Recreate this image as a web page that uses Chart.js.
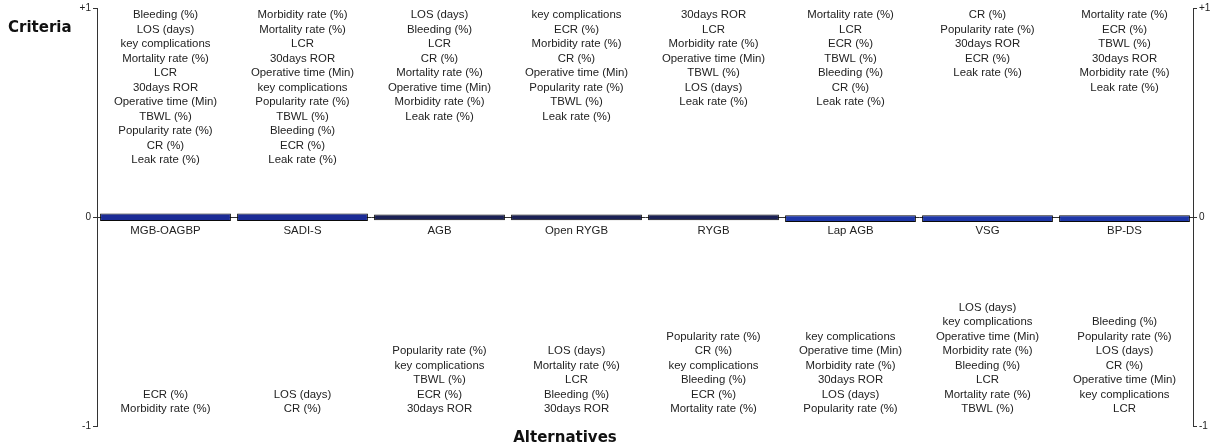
<!DOCTYPE html>
<html>
<head>
<meta charset="utf-8">
<script src="https://cdn.jsdelivr.net/npm/chart.js@4/dist/chart.umd.min.js"></script>
<style>
  html, body { margin: 0; padding: 0; background: #fff; }
  #wrap { width: 1215px; height: 448px; }
</style>
</head>
<body>
<div id="wrap"><canvas id="myChart" width="1215" height="448"></canvas></div>
<script>
// Alternative names
const alternatives = ["MGB-OAGBP", "SADI-S", "AGB", "Open RYGB", "RYGB", "Lap AGB", "VSG", "BP-DS"];

// Net flow bars (low / high ends, almost zero)
const barLow = [-0.019, -0.019, -0.015, -0.015, -0.015, -0.024, -0.024, -0.024];
const barHigh = [0.017, 0.017, 0.012, 0.012, 0.012, 0.008, 0.008, 0.008];

// Criteria with a positive contribution (top, listed from top down)
const positiveCriteria = [
    ["Bleeding (%)", "LOS (days)", "key complications", "Mortality rate (%)", "LCR", "30days ROR", "Operative time (Min)", "TBWL (%)", "Popularity rate (%)", "CR (%)", "Leak rate (%)"],
    ["Morbidity rate (%)", "Mortality rate (%)", "LCR", "30days ROR", "Operative time (Min)", "key complications", "Popularity rate (%)", "TBWL (%)", "Bleeding (%)", "ECR (%)", "Leak rate (%)"],
    ["LOS (days)", "Bleeding (%)", "LCR", "CR (%)", "Mortality rate (%)", "Operative time (Min)", "Morbidity rate (%)", "Leak rate (%)"],
    ["key complications", "ECR (%)", "Morbidity rate (%)", "CR (%)", "Operative time (Min)", "Popularity rate (%)", "TBWL (%)", "Leak rate (%)"],
    ["30days ROR", "LCR", "Morbidity rate (%)", "Operative time (Min)", "TBWL (%)", "LOS (days)", "Leak rate (%)"],
    ["Mortality rate (%)", "LCR", "ECR (%)", "TBWL (%)", "Bleeding (%)", "CR (%)", "Leak rate (%)"],
    ["CR (%)", "Popularity rate (%)", "30days ROR", "ECR (%)", "Leak rate (%)"],
    ["Mortality rate (%)", "ECR (%)", "TBWL (%)", "30days ROR", "Morbidity rate (%)", "Leak rate (%)"],
];

// Criteria with a negative contribution (bottom, listed from top down)
const negativeCriteria = [
    ["ECR (%)", "Morbidity rate (%)"],
    ["LOS (days)", "CR (%)"],
    ["Popularity rate (%)", "key complications", "TBWL (%)", "ECR (%)", "30days ROR"],
    ["LOS (days)", "Mortality rate (%)", "LCR", "Bleeding (%)", "30days ROR"],
    ["Popularity rate (%)", "CR (%)", "key complications", "Bleeding (%)", "ECR (%)", "Mortality rate (%)"],
    ["key complications", "Operative time (Min)", "Morbidity rate (%)", "30days ROR", "LOS (days)", "Popularity rate (%)"],
    ["LOS (days)", "key complications", "Operative time (Min)", "Morbidity rate (%)", "Bleeding (%)", "LCR", "Mortality rate (%)", "TBWL (%)"],
    ["Bleeding (%)", "Popularity rate (%)", "LOS (days)", "CR (%)", "Operative time (Min)", "key complications", "LCR"],
];

// Axis tick values and labels
const tickValues = [1, 0, -1];
const tickLabels = ["+1", "0", "-1"];

// colori barre
const barColors = ["#1b2b96", "#1b2b96", "#1b2155", "#1b2155", "#1b2155", "#1d36a8", "#1d36a8", "#1d36a8"];

const TEXT_FONT = '11.4px "Liberation Sans", Arial, sans-serif';
const LINE_H = 14.5;

// Plugin per scrivere i criteri e i titoli
const labelsPlugin = {
    id: 'labelsPlugin',
    afterDatasetsDraw(chart) {
        const { ctx, scales: { x, y } } = chart;
        ctx.save();
        ctx.fillStyle = '#222';
        ctx.font = TEXT_FONT;
        ctx.textAlign = 'center';
        ctx.textBaseline = 'middle';

        const yTop = y.getPixelForValue(1);
        const yZero = y.getPixelForValue(0);
        const yBottom = y.getPixelForValue(-1);

        alternatives.forEach((name, i) => {
            const cx = x.getPixelForValue(i);
            ctx.fillText(name, cx, yZero + 14);

            positiveCriteria[i].forEach((c, k) => {
                ctx.fillText(c, cx, yTop + 7 + k * LINE_H);
            });

            const neg = negativeCriteria[i];
            neg.forEach((c, k) => {
                ctx.fillText(c, cx, yBottom - 17 - (neg.length - 1 - k) * LINE_H);
            });
        });

        // titoli assi
        ctx.fillStyle = '#111';
        ctx.font = 'bold 15px "DejaVu Sans", Verdana, sans-serif';
        ctx.textAlign = 'left';
        ctx.fillText('Criteria', 8, 28);
        ctx.textAlign = 'center';
        ctx.fillText('Alternatives', 565, 438);
        ctx.restore();
    }
};

const yTickOpts = {
    autoSkip: false,
    font: { size: 10, family: '"Liberation Sans", Arial, sans-serif' },
    color: '#222',
    padding: 2,
    callback: (value) => {
        const idx = tickValues.indexOf(value);
        return idx >= 0 ? tickLabels[idx] : '';
    },
};

new Chart("myChart", {
    type: "bar",
    data: {
        labels: alternatives,
        datasets: [{
            label: "Net flow",
            data: alternatives.map((_, i) => [barLow[i], barHigh[i]]),
            backgroundColor: barColors,
            borderColor: "#0a0a0a",
            borderWidth: 1,
            borderSkipped: false,
            barPercentage: 0.955,
            categoryPercentage: 1,
        }],
    },
    options: {
        responsive: false,
        animation: false,
        layout: { padding: { top: 8, bottom: 22, left: 0, right: 0 } },
        plugins: {
            legend: { display: false },
            tooltip: { enabled: false },
            title: { display: false },
        },
        scales: {
            x: {
                display: false,
            },
            y: {
                position: 'left',
                min: -1,
                max: 1,
                afterBuildTicks: (scale) => { scale.ticks = tickValues.map(v => ({ value: v })); },
                afterFit: (scale) => { scale.width = 97; },
                ticks: yTickOpts,
                border: { color: '#333', width: 1 },
                grid: {
                    color: (c) => (c.tick && c.tick.value === 0 ? '#333' : 'rgba(0,0,0,0)'),
                    tickColor: '#333',
                    tickLength: 4,
                },
            },
            y2: {
                position: 'right',
                min: -1,
                max: 1,
                afterBuildTicks: (scale) => { scale.ticks = tickValues.map(v => ({ value: v })); },
                afterFit: (scale) => { scale.width = 22; },
                ticks: yTickOpts,
                border: { color: '#333', width: 1 },
                grid: {
                    drawOnChartArea: false,
                    tickColor: '#333',
                    tickLength: 4,
                },
            },
        },
    },
    plugins: [labelsPlugin],
});
</script>
</body>
</html>
